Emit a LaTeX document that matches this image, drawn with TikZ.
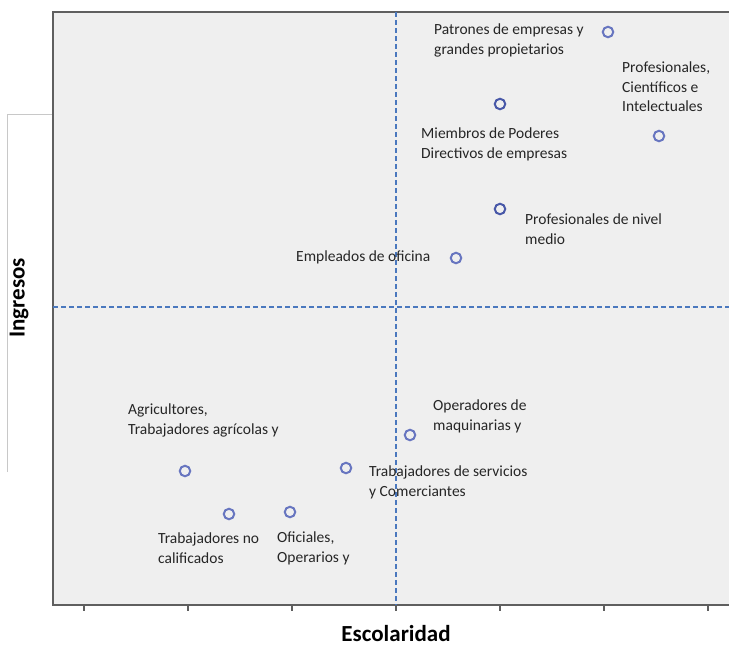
\documentclass[tikz,border=0pt]{standalone}
\usepackage{fontspec}
\setmainfont{Carlito}
\definecolor{plotgray}{RGB}{239, 239, 239}
\definecolor{framegray}{RGB}{95, 95, 95}
\definecolor{boxgray}{RGB}{200, 200, 200}
\definecolor{dashblue}{RGB}{74, 120, 190}
\definecolor{dotblue}{RGB}{104, 118, 192}
\definecolor{dotdark}{RGB}{72, 88, 168}
\usetikzlibrary{positioning}

\begin{document}
\begin{tikzpicture}[
  x=1pt, y=-1pt,
  dot/.style={circle, draw=dotblue, line width=2pt, minimum size=10.5pt, inner sep=0pt},
  lbl/.style={anchor=north west, align=left, inner sep=0pt, font=\fontsize{15.5}{19.5}\selectfont, text=black!85},
  axislbl/.style={font=\fontsize{23}{26}\selectfont\bfseries}
]
  \useasboundingbox (0,0) rectangle (729,648);

  % Plot area
  \fill[plotgray] (53,12) rectangle (729,605);
  \draw[boxgray, line width=0.8pt] (7,472) -- (7,114) -- (53,114);
  \draw[framegray, line width=2pt] (729,12) -- (53,12) -- (53,605) -- (729,605);
  \foreach \tx in {84, 188, 292, 396, 500, 604, 708}
    \draw[framegray, line width=1.6pt] (\tx,605) -- (\tx,611);

  % Quadrant lines
  \draw[dashblue, line width=1.2pt, dash pattern=on 5pt off 3pt] (396,12) -- (396,605);
  \draw[dashblue, line width=1.2pt, dash pattern=on 5pt off 3pt] (53,307) -- (729,307);

  % Points
  \node[dot] (patrones) at (608,32) {};
  \node[dot, draw=dotdark] (miembros) at (500,104) {};
  \node[dot] (cientificos) at (659,136) {};
  \node[dot, draw=dotdark] (medio) at (500,209) {};
  \node[dot] (oficina) at (456,258) {};
  \node[dot] (operadores) at (410,435) {};
  \node[dot] (servicios) at (346,468) {};
  \node[dot] (agricultores) at (185,471) {};
  \node[dot] (nocalif) at (229,514) {};
  \node[dot] (oficiales) at (290,512) {};

  % Labels
  \node[lbl] (patroneslbl) at (434,24) {Patrones de empresas y\\grandes propietarios};
  \node[lbl] (cientificoslbl) at (622,62) {Profesionales,\\Científicos e\\Intelectuales};
  \node[lbl] (miembroslbl) at (421,128) {Miembros de Poderes\\Directivos de empresas};
  \node[lbl] (mediolbl) at (525,214) {Profesionales de nivel\\medio};
  \node[lbl] (oficinalbl) at (296,251) {Empleados de oficina};
  \node[lbl] (operadoreslbl) at (433,400) {Operadores de\\maquinarias y};
  \node[lbl] (servicioslbl) at (369,466) {Trabajadores de servicios\\y Comerciantes};
  \node[lbl] (agricultoreslbl) at (128,404) {Agricultores,\\Trabajadores agrícolas y};
  \node[lbl] (nocaliflbl) at (158,533) {Trabajadores no\\calificados};
  \node[lbl] (oficialeslbl) at (277,532) {Oficiales,\\Operarios y};

  % Axis titles
  \node[axislbl, anchor=base, inner sep=0pt] (xtitle) at (396,641) {Escolaridad};
  \node[axislbl, rotate=90] (ytitle) at (19,298) {Ingresos};
\end{tikzpicture}
\end{document}
